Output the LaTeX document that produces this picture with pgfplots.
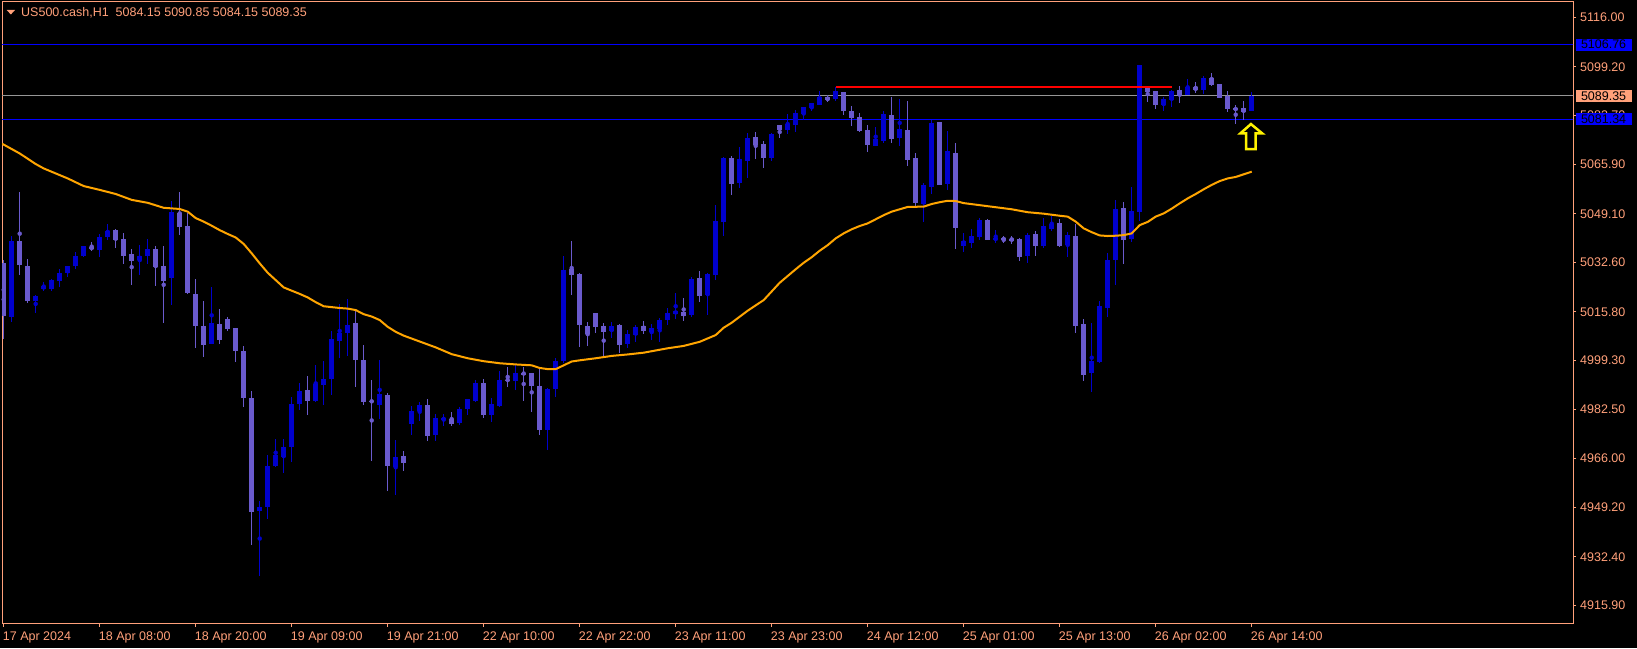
\documentclass[border=0pt]{standalone}
\usepackage{fontspec}
\setmainfont{Liberation Sans}
\usepackage{pgfplots}
\usepackage{pgfplotstable}
\pgfplotsset{compat=1.18}
\definecolor{mtfg}{RGB}{255,160,122}
\definecolor{bull}{RGB}{0,0,205}
\definecolor{bear}{RGB}{106,90,205}
\definecolor{maor}{RGB}{255,165,0}
\definecolor{lineblue}{RGB}{0,0,255}
\definecolor{pgray}{RGB}{150,150,150}

\pgfplotstableread{
i o h l c
0 5032.4 5033.4 5006.6 5014.5
1 5014.0 5041.6 5012.5 5039.9
2 5039.9 5056.7 5028.3 5031.7
3 5031.7 5033.8 5018.9 5019.8
4 5019.5 5021.6 5015.5 5021.3
5 5023.6 5026.1 5023.0 5024.9
6 5023.6 5027.0 5022.9 5026.6
7 5026.3 5030.3 5024.2 5029.0
8 5029.0 5031.7 5027.8 5031.7
9 5031.5 5036.2 5030.4 5034.8
10 5034.9 5038.4 5034.5 5038.2
11 5037.9 5039.6 5036.6 5037.2
12 5037.0 5042.4 5034.4 5041.3
13 5041.3 5045.8 5040.3 5043.3
14 5043.7 5044.1 5037.6 5040.4
15 5040.6 5042.6 5032.2 5034.9
16 5035.5 5037.3 5024.9 5033.2
17 5033.6 5038.6 5028.3 5035.0
18 5035.1 5040.6 5032.1 5037.2
19 5037.2 5038.2 5024.9 5031.1
20 5031.4 5038.2 5012.1 5026.4
21 5027.1 5053.5 5018.2 5049.8
22 5049.4 5056.6 5042.0 5044.8
23 5045.0 5049.3 5021.8 5022.3
24 5022.1 5027.0 5003.6 5011.1
25 5011.0 5019.8 5000.5 5004.6
26 5005.0 5024.3 5005.0 5012.0
27 5011.7 5016.8 5005.0 5006.3
28 5013.4 5014.0 5009.4 5010.1
29 5010.3 5010.3 4998.8 5002.6
30 5002.5 5004.2 4983.4 4986.6
31 4986.5 4988.9 4936.6 4947.8
32 4948.0 4951.4 4925.9 4949.4
33 4949.5 4967.0 4945.4 4963.3
34 4963.4 4972.6 4963.1 4967.0
35 4966.5 4972.6 4960.8 4969.8
36 4969.7 4986.7 4964.8 4984.4
37 4984.5 4991.7 4982.3 4988.9
38 4989.1 4993.9 4980.6 4985.6
39 4985.6 4997.7 4985.2 4991.1
40 4991.0 4999.1 4984.1 4992.8
41 4992.9 5009.3 4987.5 5006.4
42 5006.0 5018.7 5000.2 5008.8
43 5008.7 5020.2 5000.9 5011.5
44 5011.9 5016.6 4990.3 4999.4
45 4999.3 5004.5 4984.1 4985.2
46 4985.4 4992.6 4965.1 4985.3
47 4984.1 4999.3 4979.2 4987.7
48 4987.5 4988.1 4954.9 4963.4
49 4963.1 4972.2 4953.6 4966.3
50 4966.7 4968.4 4961.7 4964.5
51 4977.7 4983.7 4973.9 4982.0
52 4982.0 4985.0 4978.6 4984.0
53 4984.1 4986.1 4971.8 4973.5
54 4973.9 4981.2 4971.8 4979.7
55 4979.0 4981.2 4977.1 4979.7
56 4979.3 4981.7 4976.9 4977.6
57 4978.0 4983.4 4977.4 4982.7
58 4982.7 4986.1 4980.7 4986.1
59 4985.5 4992.6 4985.2 4991.5
60 4991.5 4992.9 4979.8 4980.8
61 4980.7 4986.6 4978.4 4984.4
62 4983.9 4995.7 4983.5 4992.6
63 4992.7 4997.0 4990.3 4992.5
64 4992.1 4998.0 4989.3 4995.0
65 4994.9 4997.0 4985.5 4994.7
66 4995.0 4995.0 4981.8 4990.7
67 4990.5 4996.3 4974.0 4975.7
68 4975.7 4989.9 4968.8 4989.5
69 4989.5 5000.2 4986.9 4999.1
70 4999.1 5034.8 4998.3 5030.0
71 5030.4 5039.9 5021.5 5028.3
72 5028.7 5029.1 5003.9 5011.3
73 5011.0 5012.3 5004.2 5008.2
74 5015.4 5015.4 5008.9 5010.6
75 5011.0 5011.9 5000.0 5008.9
76 5009.3 5012.3 5007.1 5011.0
77 5011.3 5011.7 5001.8 5004.5
78 5004.9 5009.6 5003.5 5008.3
79 5007.9 5011.3 5005.5 5010.6
80 5011.0 5012.7 5008.3 5009.3
81 5008.9 5011.7 5006.2 5010.3
82 5010.0 5013.7 5005.5 5013.0
83 5013.0 5017.1 5011.3 5015.4
84 5015.2 5022.2 5013.4 5016.1
85 5015.7 5020.5 5013.0 5014.4
86 5014.7 5027.7 5014.0 5027.0
87 5027.3 5029.7 5019.1 5021.2
88 5021.5 5029.0 5014.7 5028.7
89 5028.3 5052.2 5026.6 5046.7
90 5046.4 5068.8 5041.9 5068.2
91 5068.2 5068.8 5055.6 5059.3
92 5059.6 5071.9 5057.9 5067.8
93 5067.1 5076.7 5061.3 5075.0
94 5075.3 5077.0 5067.8 5072.6
95 5072.9 5073.9 5064.8 5068.2
96 5068.2 5076.7 5067.1 5076.3
97 5079.4 5079.4 5075.0 5077.7
98 5077.7 5083.1 5076.3 5079.7
99 5079.4 5084.5 5077.0 5083.5
100 5083.1 5085.5 5081.4 5085.5
101 5085.2 5086.9 5084.1 5086.9
102 5086.5 5091.0 5086.2 5089.2
103 5088.9 5089.6 5087.2 5087.9
104 5088.2 5092.4 5087.5 5091.0
105 5090.6 5090.6 5082.8 5084.1
106 5084.1 5085.8 5079.0 5081.8
107 5082.1 5083.5 5077.0 5077.3
108 5077.7 5079.4 5070.2 5072.6
109 5072.2 5078.7 5072.2 5074.6
110 5073.9 5084.1 5073.3 5083.1
111 5083.1 5088.9 5073.3 5074.6
112 5075.0 5088.2 5072.2 5078.0
113 5077.7 5087.5 5065.4 5067.5
114 5068.2 5069.9 5051.5 5052.8
115 5052.5 5059.6 5046.4 5059.0
116 5058.3 5081.1 5055.9 5080.1
117 5080.4 5080.7 5059.0 5059.0
118 5059.3 5077.3 5057.3 5070.5
119 5069.9 5073.3 5037.2 5044.3
120 5038.2 5042.6 5036.2 5039.9
121 5039.2 5044.0 5037.5 5041.6
122 5041.3 5047.7 5040.2 5047.05
123 5047.05 5047.4 5040.2 5040.2
124 5040.6 5043.6 5039.2 5040.8
125 5040.8 5041.6 5039.2 5040.6
126 5040.5 5041.9 5039.2 5040.4
127 5040.6 5040.9 5033.1 5034.5
128 5034.8 5042.6 5032.4 5041.9
129 5042.3 5043.3 5034.8 5038.2
130 5038.2 5047.7 5037.5 5045.0
131 5044.3 5048.4 5043.3 5046.0
132 5046.0 5047.4 5037.9 5038.2
133 5038.5 5043.0 5034.5 5041.9
134 5041.6 5045.7 5008.6 5011.0
135 5011.7 5013.4 4992.3 4994.6
136 4995.0 5012.0 4988.5 4999.1
137 4998.7 5019.5 4998.4 5017.8
138 5017.1 5035.8 5014.0 5033.4
139 5033.4 5053.9 5024.9 5050.8
140 5051.1 5053.2 5032.1 5040.2
141 5040.6 5058.3 5039.6 5050.1
142 5049.8 5099.8 5046.7 5099.8
143 5092.0 5092.7 5087.2 5090.6
144 5091.0 5091.0 5084.8 5086.2
145 5086.2 5088.9 5084.2 5088.2
146 5087.9 5091.3 5085.5 5091.0
147 5091.3 5092.7 5086.9 5089.6
148 5089.6 5095.0 5089.6 5092.3
149 5092.3 5094.0 5090.3 5091.3
150 5091.3 5096.1 5089.9 5095.4
151 5095.4 5097.4 5093.0 5093.0
152 5093.3 5093.3 5088.6 5088.6
153 5089.3 5091.0 5083.8 5084.8
154 5085.2 5086.2 5079.7 5084.5
155 5085.2 5087.5 5081.1 5083.9
156 5084.15 5090.85 5084.15 5089.35
}\ohlc

\pgfplotstableread{
i m
-0.2 5073.0
0 5072.7
2 5069.7
4 5066.1
5 5064.6
8 5061.2
10 5058.6
12 5057.3
14 5055.9
16 5053.9
18 5052.9
20 5051.2
22 5050.8
23 5049.9
24 5047.7
25 5046.5
26 5045.1
27 5043.6
28 5042.3
29 5041.1
30 5038.9
31 5035.7
32 5032.3
33 5029.1
34 5026.6
35 5024.1
36 5023.0
37 5021.9
38 5020.7
39 5019.1
40 5017.7
41 5017.4
42 5017.1
43 5016.9
44 5016.4
45 5015.0
46 5014.2
47 5013.0
48 5010.7
49 5009.0
50 5007.7
51 5006.7
52 5005.7
54 5003.7
56 5001.4
58 5000.0
60 4999.0
62 4998.3
64 4997.9
66 4997.6
67 4996.7
68 4996.3
69 4996.3
70 4997.6
71 4998.9
72 4999.3
74 5000.0
76 5000.8
78 5001.3
80 5001.9
83 5003.4
85 5004.2
87 5005.6
89 5007.9
90 5010.4
91 5012.1
93 5016.2
95 5019.8
97 5025.7
99 5030.3
100 5032.5
101 5034.4
102 5036.6
103 5038.5
104 5040.8
105 5042.5
106 5043.9
107 5045.0
108 5045.9
109 5047.3
110 5048.7
111 5049.9
112 5050.7
113 5051.5
115 5051.6
116 5052.5
117 5053.1
118 5053.6
119 5053.5
120 5052.8
122 5052.1
124 5051.4
126 5050.7
128 5049.7
130 5049.2
132 5048.5
133 5048.2
134 5046.5
135 5044.2
136 5042.9
137 5041.8
138 5041.6
139 5041.7
140 5041.9
141 5042.5
142 5045.3
143 5046.4
144 5048.2
145 5049.3
146 5050.9
147 5052.7
148 5054.4
149 5055.9
150 5057.5
151 5059.0
152 5060.3
153 5061.2
154 5061.7
155 5062.6
156 5063.5
}\ma

\begin{document}
\begin{tikzpicture}[x=1pt,y=1pt]
\fill[black] (0,0) rectangle (1637,648);
\begin{axis}[
  at={(2pt,24pt)}, anchor=south west,
  scale only axis, width=1571pt, height=622.5pt,
  xmin=-0.2125, xmax=196.16, ymin=4909.57, ymax=5121.41,
  clip mode=individual,
  axis line style={mtfg, line width=1pt},
  tick align=outside, xtick pos=bottom, ytick pos=right,
  major tick length=3pt,
  tick style={mtfg, line width=1pt},
  tick label style={text=mtfg, font=\fontsize{12.5}{14}\selectfont},
  xtick={0,12,...,156},
  xticklabels={17 Apr 2024,18 Apr 08:00,18 Apr 20:00,19 Apr 09:00,19 Apr 21:00,22 Apr 10:00,22 Apr 22:00,23 Apr 11:00,23 Apr 23:00,24 Apr 12:00,25 Apr 01:00,25 Apr 13:00,26 Apr 02:00,26 Apr 14:00},
  xticklabel style={anchor=north west, inner sep=0pt, xshift=-1pt, yshift=-5pt},
  ytick={4915.90,4932.40,4949.20,4966.00,4982.50,4999.30,5015.80,5032.60,5049.10,5065.90,5082.70,5099.20,5116.00},
  yticklabels={4915.90,4932.40,4949.20,4966.00,4982.50,4999.30,5015.80,5032.60,5049.10,5065.90,5082.70,5099.20,5116.00},
  yticklabel style={anchor=west, inner sep=0pt, xshift=4pt},
]
% horizontal level lines
\addplot[lineblue, line width=1pt, forget plot] coordinates {(-1,5106.76) (197,5106.76)};
\addplot[lineblue, line width=1pt, forget plot] coordinates {(-1,5081.34) (197,5081.34)};
\addplot[pgray, line width=1pt, forget plot] coordinates {(-1,5089.35) (197,5089.35)};
% bull wicks
\addplot[bull, only marks, mark=none, error bars/.cd, y dir=both, y explicit, error mark=none, error bar style={line width=1pt}]
  table[x=i,
    y expr={\thisrow{c}>=\thisrow{o} ? (\thisrow{h}+\thisrow{l})/2 : 4800},
    y error plus expr={\thisrow{c}>=\thisrow{o} ? (\thisrow{h}-\thisrow{l})/2 : 0},
    y error minus expr={\thisrow{c}>=\thisrow{o} ? (\thisrow{h}-\thisrow{l})/2 : 0}] {\ohlc};
% bull bodies
\addplot[bull, only marks, mark=none, error bars/.cd, y dir=both, y explicit, error mark=none, error bar style={line width=5pt}]
  table[x=i,
    y expr={\thisrow{c}>=\thisrow{o} ? (\thisrow{o}+\thisrow{c})/2 : 4800},
    y error plus expr={\thisrow{c}>=\thisrow{o} ? max(abs(\thisrow{c}-\thisrow{o})/2,0.17) : 0},
    y error minus expr={\thisrow{c}>=\thisrow{o} ? max(abs(\thisrow{c}-\thisrow{o})/2,0.17) : 0}] {\ohlc};
% bear wicks
\addplot[bear, only marks, mark=none, error bars/.cd, y dir=both, y explicit, error mark=none, error bar style={line width=1pt}]
  table[x=i,
    y expr={\thisrow{c}<\thisrow{o} ? (\thisrow{h}+\thisrow{l})/2 : 4800},
    y error plus expr={\thisrow{c}<\thisrow{o} ? (\thisrow{h}-\thisrow{l})/2 : 0},
    y error minus expr={\thisrow{c}<\thisrow{o} ? (\thisrow{h}-\thisrow{l})/2 : 0}] {\ohlc};
% bear bodies
\addplot[bear, only marks, mark=none, error bars/.cd, y dir=both, y explicit, error mark=none, error bar style={line width=5pt}]
  table[x=i,
    y expr={\thisrow{c}<\thisrow{o} ? (\thisrow{o}+\thisrow{c})/2 : 4800},
    y error plus expr={\thisrow{c}<\thisrow{o} ? max(abs(\thisrow{c}-\thisrow{o})/2,0.17) : 0},
    y error minus expr={\thisrow{c}<\thisrow{o} ? max(abs(\thisrow{c}-\thisrow{o})/2,0.17) : 0}] {\ohlc};
% moving average
\addplot[maor, line width=2pt] table[x=i, y=m] {\ma};
% red level
\addplot[red, line width=2pt] coordinates {(104,5092.4) (146,5092.4)};
% arrow
\draw[yellow, line width=2.5pt, line join=miter]
  (axis cs:155.9,5079.7) -- (axis cs:157.3,5076.56) -- (axis cs:156.5,5076.56) -- (axis cs:156.5,5071.2)
  -- (axis cs:155.3,5071.2) -- (axis cs:155.3,5076.56) -- (axis cs:154.6,5076.56) -- cycle;
\coordinate (b1) at (axis cs:196.16,5106.76);
\coordinate (b2) at (axis cs:196.16,5089.35);
\coordinate (b3) at (axis cs:196.16,5081.34);
\end{axis}
\begin{scope}[every node/.style={anchor=west, inner xsep=5.5pt, inner ysep=0pt, minimum height=12pt, text=black, font=\fontsize{12.5}{14}\selectfont}]
\node[fill=lineblue] at ([xshift=2.3pt]b1) {5106.76};
\node[fill=mtfg] at ([xshift=2.3pt]b2) {5089.35};
\node[fill=lineblue] at ([xshift=2.3pt]b3) {5081.34};
\end{scope}
\fill[mtfg] (6.7,638) -- (15,638) -- (10.85,633.5) -- cycle;
\node[anchor=west, inner sep=0pt, text=mtfg, font=\fontsize{12.5}{14}\selectfont] at (21,635.5) {US500.cash,H1\ \ 5084.15 5090.85 5084.15 5089.35};
\pgfresetboundingbox
\path[use as bounding box] (0,0) rectangle (1637,648);
\end{tikzpicture}
\end{document}
